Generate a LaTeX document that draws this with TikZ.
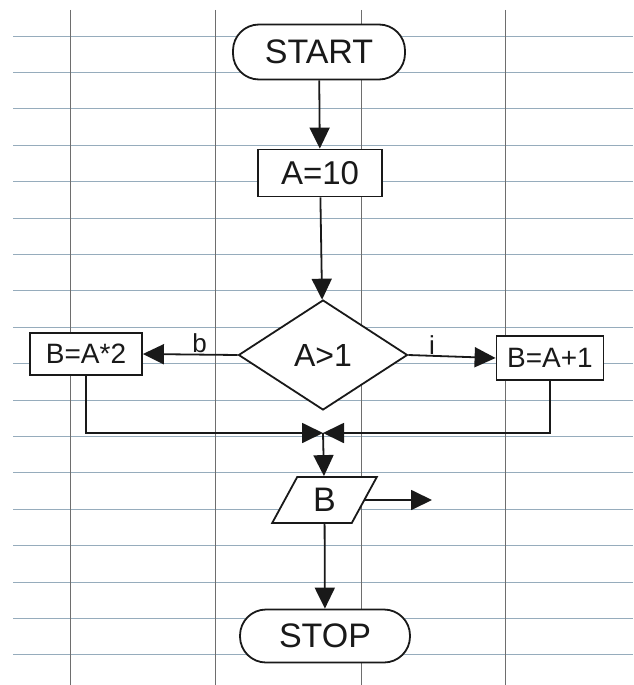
\documentclass[tikz,border=0pt]{standalone}
\usepackage{fontspec}
\setmainfont{Liberation Sans}
\usetikzlibrary{shapes.geometric}
\usetikzlibrary{arrows.meta}

\definecolor{ruleblue}{RGB}{150,172,188}
\definecolor{rulegray}{RGB}{110,110,110}
\definecolor{inkblack}{RGB}{25,25,25}

\begin{document}
\begin{tikzpicture}[x=1pt, y=-1pt, line width=1.8pt, draw=inkblack,
		>={Triangle[length=21pt,width=20pt]},
		every node/.style={text=inkblack},
		term/.style={draw, fill=white, rounded corners=26pt, inner sep=0pt, font=\fontsize{34}{40}\selectfont},
		proc/.style={draw, fill=white, inner sep=0pt, font=\fontsize{33}{38}\selectfont},
		sideproc/.style={draw, fill=white, inner sep=0pt, font=\fontsize{28}{32}\selectfont},
		test/.style={draw, fill=white, diamond, inner sep=0pt, font=\fontsize{32}{36}\selectfont},
		io/.style={draw, fill=white, trapezium, trapezium left angle=66, trapezium right angle=114,
			trapezium stretches, inner sep=0pt, font=\fontsize{34}{40}\selectfont},
		branch/.style={font=\fontsize{26}{30}\selectfont, inner sep=0.5pt}]
			\useasboundingbox (0,0) rectangle (633,685);
			% ruled paper
			\foreach \y in {0,...,17} {
				\draw[ruleblue, line width=0.8pt] (13,36+36.4*\y) -- (633,36+36.4*\y);
			}
			\draw[rulegray, line width=0.6pt] (70,10) -- (70,685);
			\draw[rulegray, line width=0.6pt] (215,10) -- (215,685);
			\draw[rulegray, line width=0.6pt] (361,10) -- (361,685);
			\draw[rulegray, line width=0.6pt] (505,10) -- (505,685);
			% flowchart
			\node[term, minimum width=172pt, minimum height=55pt] (start) at (319,52) {START};
			\node[proc, minimum width=124pt, minimum height=47pt] (a10) at (320,173) {A=10};
			\node[test, minimum width=169pt, minimum height=110pt] (cond) at (323,355) {A>1};
			\node[sideproc, minimum width=112pt, minimum height=42pt] (bdbl) at (86,354) {B=A*2};
			\node[sideproc, minimum width=107pt, minimum height=44pt] (binc) at (550,358) {B=A+1};
			\coordinate (join) at (323,433);
			\node[io, minimum width=105pt, minimum height=46pt] (outb) at (324.5,500) {B};
			\coordinate (outend) at (432,503);
			\node[term, minimum width=170pt, minimum height=53pt] (stop) at (325,636) {STOP};
			\draw[->] (start) -- (a10); \draw[->] (a10) -- (cond);
			\draw[->] (cond.west) -- node[branch, above, pos=0.4] {b} (bdbl.east);
			\draw[->] (cond.east) -- node[branch, above, pos=0.27] {i} (binc.west);
			\draw[->] (bdbl.south) -- (bdbl.south |- join) -- (join);
			\draw[->] (binc.south) -- (binc.south |- join) -- (join);
			\draw[->] (join) -- (outb);
			\draw[->] (outb.east) -- (outb.east -| outend);
			\draw[->] (outb) -- (stop);
		\end{tikzpicture}
\end{document}
